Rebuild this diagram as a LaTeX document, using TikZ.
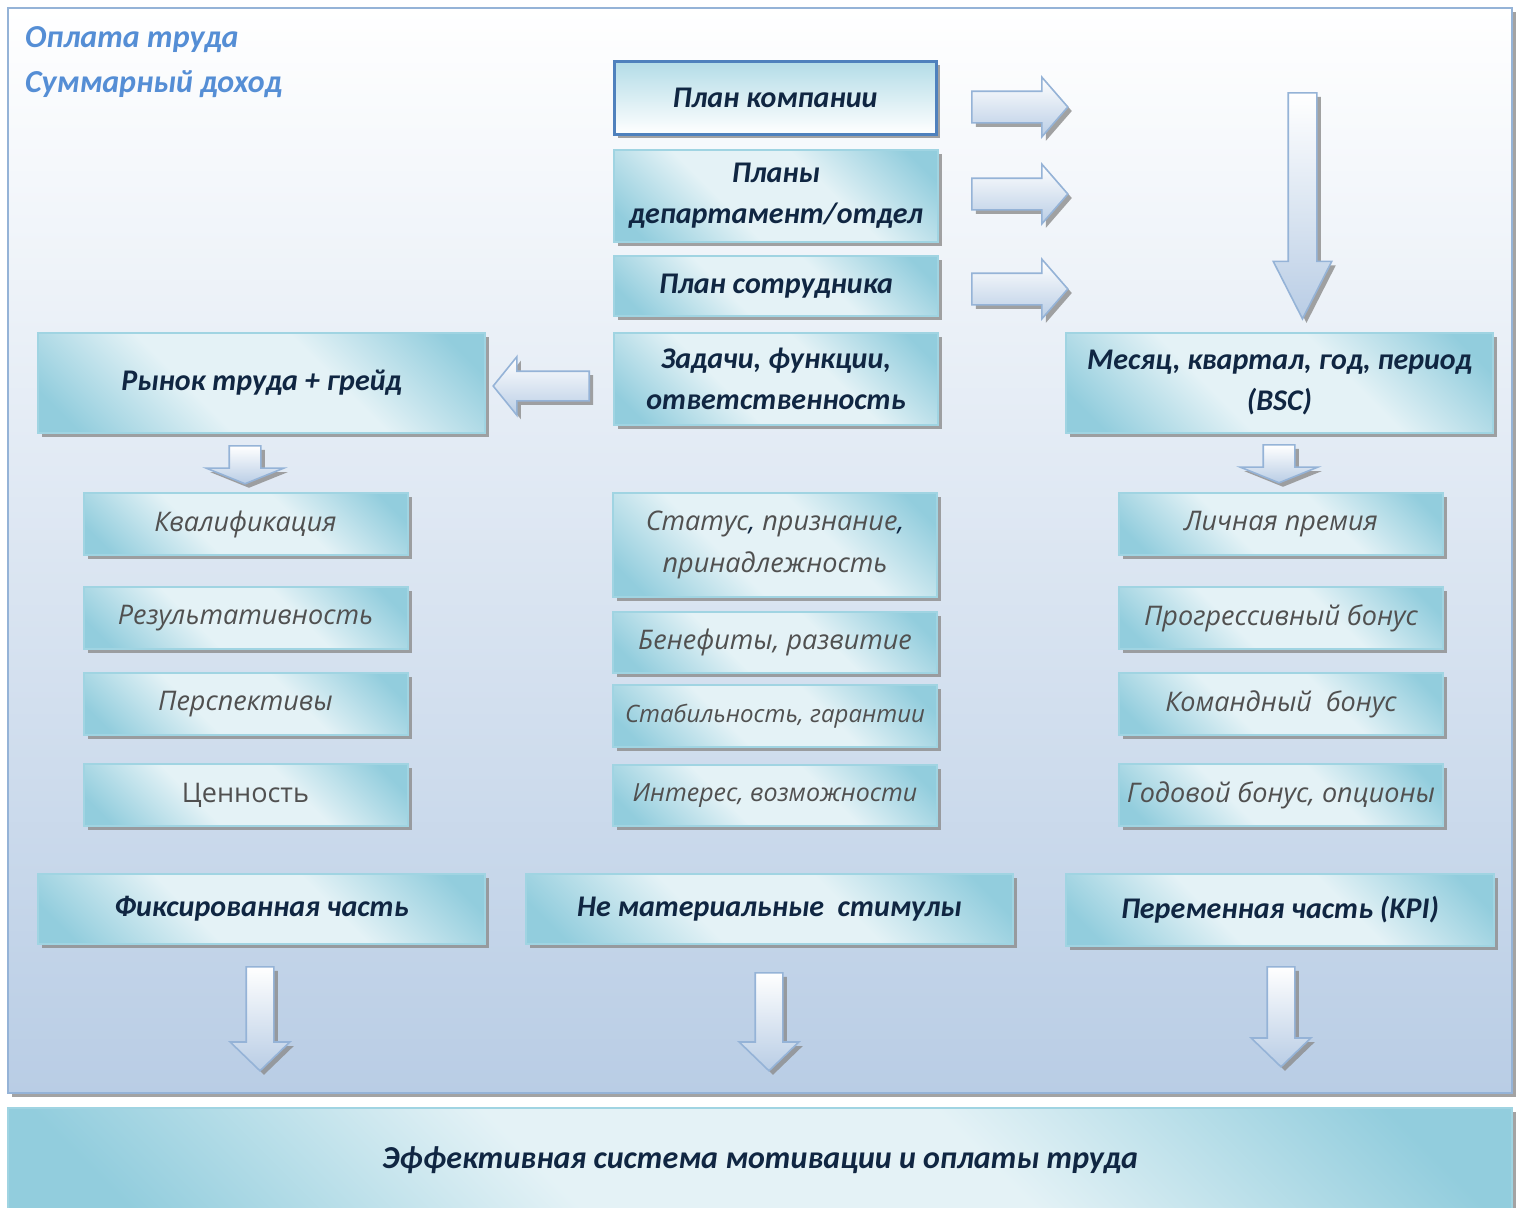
\documentclass[tikz,border=0pt]{standalone}
\usepackage{fontspec}
\setmainfont{Carlito}
\newfontfamily\itemfont{Open Sans}
\usetikzlibrary{shapes.arrows,shadows}

\definecolor{boxteal}{RGB}{146,205,221}
\definecolor{boxlight}{RGB}{228,242,246}
\definecolor{boxline}{RGB}{160,212,226}
\definecolor{navytext}{RGB}{16,38,66}
\definecolor{graytext}{RGB}{80,80,80}
\definecolor{headblue}{RGB}{85,142,213}
\definecolor{frameline}{RGB}{149,179,215}
\definecolor{framebot}{RGB}{185,205,229}
\definecolor{planline}{RGB}{79,129,189}

\pgfdeclareverticalshading{tealshade}{100bp}{color(0bp)=(boxteal); color(20bp)=(boxteal); color(40bp)=(boxlight); color(60bp)=(boxlight); color(80bp)=(boxteal); color(100bp)=(boxteal)}

\tikzset{
  boxshadow/.style={drop shadow={shadow xshift=2pt, shadow yshift=-2pt, fill=black!45, opacity=.8}},
  tealbox/.style={draw=boxline, line width=1pt, shading=tealshade, shading angle=-45, boxshadow, align=center, inner sep=0pt},
  headbox/.style={tealbox, text=navytext, font=\fontsize{15}{20.5}\selectfont\bfseries\itshape},
  planbox/.style={headbox, draw=planline, line width=1.5pt, top color=boxteal!70, bottom color=white},
  itembox/.style={tealbox, text=graytext, font=\itemfont\fontsize{13.5}{21}\selectfont\itshape, minimum width=162pt},
  headline/.style={anchor=west, text=headblue, font=\fontsize{16}{20}\selectfont\bfseries\itshape},
  blockarrow/.style={single arrow, anchor=tail, draw=frameline, line width=0.8pt, top color=white, bottom color=framebot, boxshadow}
}

\begin{document}
\begin{tikzpicture}[x=0.5pt, y=-0.5pt]
  \useasboundingbox (0,0) rectangle (1523,1207);
  % outer frame
  \draw[draw=frameline, line width=1.2pt, top color=white, bottom color=framebot, boxshadow] (8,8) rectangle (1512,1093);
  \node[headline] (pay) at (18,40) {Оплата труда};
  \node[headline] (income) at (18,84) {Суммарный доход};

  % plans
  \node[planbox, minimum width=161pt, minimum height=36.5pt] (plancomp) at (775,97.5) {План компании};
  \node[headbox, minimum width=162pt, minimum height=46pt] (plandep) at (776,196) {Планы\\департамент/отдел};
  \node[headbox, minimum width=162pt, minimum height=30pt] (planemp) at (776,286) {План сотрудника};
  \node[headbox, minimum width=162pt, minimum height=46pt] (tasks) at (776,379) {Задачи, функции,\\ответственность};
  \node[headbox, minimum width=223.5pt, minimum height=50pt] (market) at (261.5,383) {Рынок труда + грейд};
  \node[headbox, minimum width=213.5pt, minimum height=50pt] (period) at (1279.5,383) {Месяц, квартал, год, период\\(BSC)};

  % left items
  \node[itembox, minimum height=31pt] (qual) at (245.5,524) {Квалификация};
  \node[itembox, minimum height=31pt] (result) at (245.5,618) {Результативность};
  \node[itembox, minimum height=31pt] (persp) at (245.5,704) {Перспективы};
  \node[itembox, minimum height=31pt, font=\itemfont\fontsize{13.5}{21}\selectfont] (value) at (245.5,795) {Ценность};

  % middle items
  \node[itembox, minimum height=52pt] (status) at (775,545) {Статус{\color{navytext},} признание{\color{navytext},}\\принадлежность};
  \node[itembox, minimum height=30.5pt] (benefit) at (775,642.5) {Бенефиты, развитие};
  \node[itembox, minimum height=31pt, font=\itemfont\fontsize{12}{21}\selectfont\itshape] (stable) at (775,716) {Стабильность, гарантии};
  \node[itembox, minimum height=30.5pt, font=\itemfont\fontsize{12.5}{21}\selectfont\itshape] (interest) at (775,795.5) {Интерес, возможности};

  % right items
  \node[itembox, minimum height=31pt] (bonus1) at (1281,524) {Личная премия};
  \node[itembox, minimum height=31pt] (bonus2) at (1281,618) {Прогрессивный бонус};
  \node[itembox, minimum height=31pt] (bonus3) at (1281,704) {Командный~ бонус};
  \node[itembox, minimum height=31pt] (bonus4) at (1281,795) {Годовой бонус, опционы};

  % parts
  \node[headbox, minimum width=223.5pt, minimum height=35pt] (fixed) at (261.5,909) {Фиксированная часть};
  \node[headbox, minimum width=243.5pt, minimum height=35pt] (nonmat) at (769.5,909) {Не материальные~ стимулы};
  \node[headbox, minimum width=214pt, minimum height=36pt] (variable) at (1280,910) {Переменная часть (KPI)};
  \node[headbox, minimum width=752pt, minimum height=52pt, font=\fontsize{16}{20}\selectfont\bfseries\itshape] (system) at (760,1160) {Эффективная система мотивации и оплаты труда};

  % block arrows
  \begin{scope}[single arrow tip angle=98, single arrow head extend=7pt, inner sep=7.5pt, minimum height=48pt]
    \node[blockarrow] (toperiod1) at (971,107) {};
    \node[blockarrow] (toperiod2) at (971,194) {};
    \node[blockarrow] (toperiod3) at (971,289) {};
  \end{scope}
  \node[blockarrow, shape border rotate=270, single arrow tip angle=54, single arrow head extend=7.5pt, minimum height=113pt, inner sep=6.75pt] (downperiod) at (1302.5,92) {};
  \node[blockarrow, shape border rotate=180, single arrow tip angle=102, single arrow head extend=7.25pt, minimum height=48pt, inner sep=7pt] (tomarket) at (590,386) {};
  \begin{scope}[shape border rotate=270, single arrow tip angle=136, single arrow head extend=11.5pt, minimum height=18.5pt, inner sep=7.5pt]
    \node[blockarrow] (downmarket) at (245,445) {};
    \node[blockarrow] (downbonus) at (1279,444) {};
  \end{scope}
  \begin{scope}[shape border rotate=270, single arrow tip angle=92, single arrow head extend=8pt, inner sep=6.5pt]
    \node[blockarrow, minimum height=52pt] (downfixed) at (260,966) {};
    \node[blockarrow, minimum height=49pt] (downnonmat) at (769,972) {};
    \node[blockarrow, minimum height=50pt] (downvariable) at (1281,966) {};
  \end{scope}
\end{tikzpicture}
\end{document}
